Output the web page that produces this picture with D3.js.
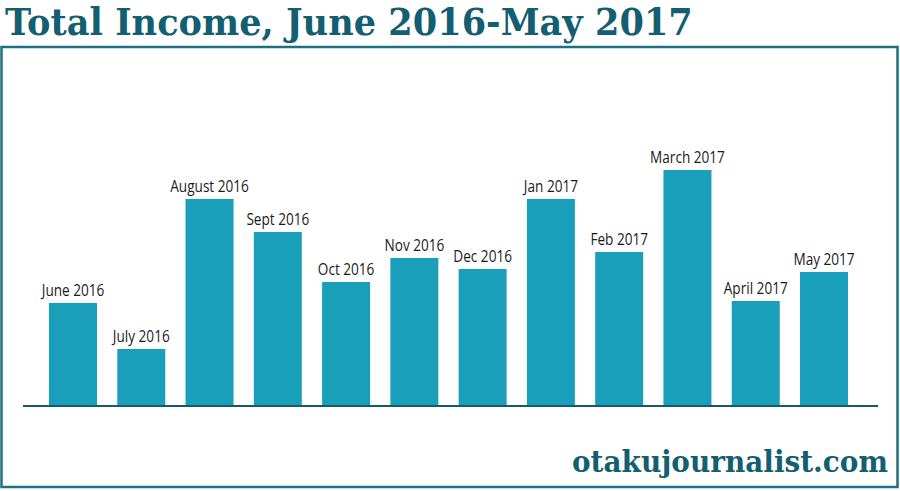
<!DOCTYPE html>
<html><head><meta charset="utf-8">
<script src="https://cdn.jsdelivr.net/npm/d3@7"></script>
<style>html,body{margin:0;padding:0;background:#fff;}svg{display:block;}</style>
</head><body>
<script>
const months = ["June 2016","July 2016","August 2016","Sept 2016","Oct 2016","Nov 2016","Dec 2016","Jan 2017","Feb 2017","March 2017","April 2017","May 2017"];
const income = [103, 57, 207, 174, 124, 148, 137, 207, 154, 236, 105, 134];
const titleText = "Total Income, June 2016-May 2017";
const credit = "otakujournalist.com";

const W = 900, H = 491;
const svg = d3.select("body").append("svg").attr("width", W).attr("height", H);

svg.append("rect").attr("x", 1.5).attr("y", 47).attr("width", 896).attr("height", 440)
  .attr("fill", "none").attr("stroke", "#1f6f82").attr("stroke-width", 2.5);

function fitText(sel, x0, yb, targetW) {
  const w = sel.node().getComputedTextLength();
  sel.attr("x", 0).attr("y", 0)
    .attr("transform", `translate(${x0},${yb}) scale(${targetW / w},1)`);
}

const t = svg.append("text").text(titleText)
  .attr("font-family", "DejaVu Serif").attr("font-weight", "bold").attr("font-size", 37)
  .attr("fill", "#135e70");
fitText(t, 5, 35, 688);

const x = d3.scaleBand().domain(months).range([49, 848]).paddingInner(0.297).paddingOuter(0);
const y = d3.scaleLinear().domain([0, 236]).range([406, 170]);

svg.append("g").selectAll("rect").data(months).join("rect")
  .attr("x", d => x(d)).attr("width", x.bandwidth())
  .attr("y", (d, i) => y(income[i])).attr("height", (d, i) => y(0) - y(income[i]))
  .attr("fill", "#1a9fba");

svg.append("g").selectAll("text").data(months).join("text")
  .attr("transform", (d, i) => `translate(${x(d) + x.bandwidth() / 2},${y(income[i]) - 7}) scale(0.8,1)`)
  .attr("text-anchor", "middle").attr("font-family", "Open Sans").attr("font-size", 17)
  .attr("fill", "#1a1a1a").text(d => d);

svg.append("line").attr("x1", 23).attr("x2", 878).attr("y1", 406).attr("y2", 406)
  .attr("stroke", "#17596b").attr("stroke-width", 2);

const c = svg.append("text").text(credit)
  .attr("font-family", "DejaVu Serif").attr("font-weight", "bold").attr("font-size", 30)
  .attr("fill", "#135e70");
fitText(c, 572, 472, 316);
</script>
</body></html>
